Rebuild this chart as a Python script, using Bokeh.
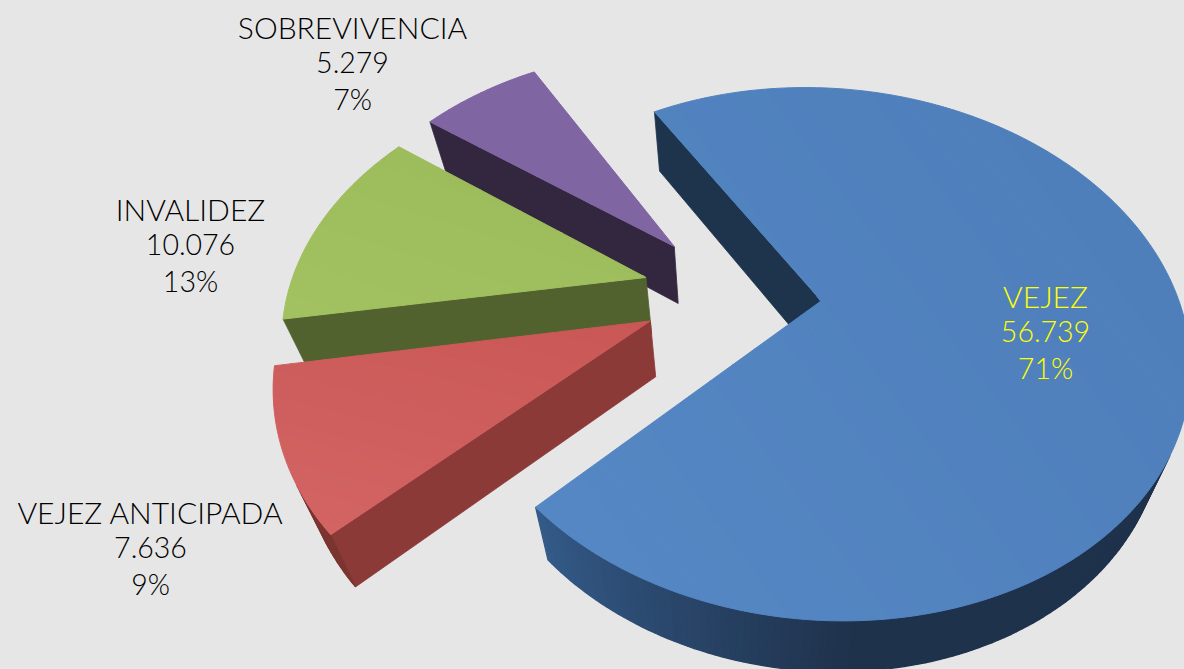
import numpy as np
from bokeh.plotting import figure
from bokeh.models import Range1d, GlobalInlineStyleSheet
from bokeh.core.properties import value
from bokeh.embed import file_html
from bokeh.resources import INLINE

# ---- data ----
categories = ["VEJEZ", "VEJEZ ANTICIPADA", "INVALIDEZ", "SOBREVIVENCIA"]
values = [56739, 7636, 10076, 5279]
value_labels = ["56.739", "7.636", "10.076", "5.279"]
percent_labels = ["71%", "9%", "13%", "7%"]

# ---- style / layout ----
top_dark = ["#4e7fbb", "#c95755", "#9dbc5c", "#8065a3"]
top_light = ["#5587c4", "#d26463", "#a2c161", "#8065a3"]
# gradient axis for the top faces (towards the lighter colour)
grad_axis = [(-0.8, 0.6), (-0.25, 0.97), (-0.3, 0.95), (-0.3, 0.95)]
radial_colors = ["#1e334c", "#8b3a37", "#52622f", "#33273f"]
arc_colors = ["#1f334d", "#7c3431", "#52622f", "#33273f"]
text_colors = ["#ffff00", "#000000", "#000000", "#000000"]
label_x = [1045, 150, 190, 352]
label_y = [295, 511, 208, 26]
LINE_STEP = 36.0
FONT = "Lato Light, Lato"
NAME_PX, NUM_PX = "30px", "28.5px"
BG = "#e6e6e6"

CX, CY, A, B = 823.81, 353.73, 366.92, 265.90
TILT = 0.0800
APEX = (820.74, 300.37)
START_DEG = -36.38
EXPLODE = 0.2510
VX, KX = 738.0, 0.061
VY, KY = 3700.0, 0.0165


def ellipse_inv(x, y):
    dx, dy = x - CX, y - CY
    c, s = np.cos(TILT), np.sin(TILT)
    return (dx * c + dy * s) / A, (-dx * s + dy * c) / B


P = np.array(ellipse_inv(*APEX))
S = np.hypot(*P)
PH = P / S


def project(uv):
    """Disc-plane points (n,2) to picture coordinates."""
    uv = np.atleast_2d(uv)
    dot = uv @ PH
    par = np.outer(dot, PH)
    perp = uv - par
    den = 1 + uv @ P
    w = (par + P + perp * np.sqrt(1 - S * S)) / den[:, None]
    c, s = np.cos(TILT), np.sin(TILT)
    x = CX + A * w[:, 0] * c - B * w[:, 1] * s
    y = CY + A * w[:, 0] * s + B * w[:, 1] * c
    return np.column_stack([x, y])


def drop(pts):
    return np.column_stack([pts[:, 0] + KX * (VX - pts[:, 0]), pts[:, 1] + KY * (VY - pts[:, 1])])


def direction(deg):
    t = np.radians(deg)
    return np.column_stack([np.sin(t), -np.cos(t)])


def mix(c1, c2, f):
    a = [int(c1[i:i + 2], 16) for i in (1, 3, 5)]
    b = [int(c2[i:i + 2], 16) for i in (1, 3, 5)]
    return "#%02x%02x%02x" % tuple(round(p + (q - p) * f) for p, q in zip(a, b))


def clip_half(poly, n, lim, keep_above):
    out = []
    m = len(poly)
    for k in range(m):
        a, b = poly[k], poly[(k + 1) % m]
        da, db = a @ n - lim, b @ n - lim
        if not keep_above:
            da, db = -da, -db
        if da >= 0:
            out.append(a)
        if (da >= 0) != (db >= 0):
            out.append(a + (b - a) * da / (da - db))
    return np.array(out) if out else np.empty((0, 2))


def faces_viewer(a, b):
    """An edge a->b of a clockwise face: is the wall below it visible?"""
    e = b - a
    m = (a + b)[None, :] / 2
    shift = drop(m)[0] - m[0]
    return e[1] * shift[0] - e[0] * shift[1] > 0


total = sum(values)
spans = [v / total * 360 for v in values]
starts = [START_DEG + sum(spans[:i]) for i in range(len(values))]
mids = [s + w / 2 for s, w in zip(starts, spans)]
base_dir = direction(mids[0])[0]

p = figure(width=1184, height=669, x_range=Range1d(0, 1184), y_range=Range1d(669, 0),
           x_axis_type=None, y_axis_type=None, toolbar_location=None, output_backend="svg",
           background_fill_color=BG, border_fill_color=BG, outline_line_color=None, min_border=0)
p.grid.visible = False
p.stylesheets = [GlobalInlineStyleSheet(css="html,body{background:%s;overflow:hidden;}" % BG)]


def add(pts, color, lw=0.8):
    p.patch(pts[:, 0], pts[:, 1], fill_color=color, line_color=color, line_width=lw)


for i in [3, 2, 1, 0]:
    off = EXPLODE * (direction(mids[i])[0] - base_dir)
    angles = np.linspace(starts[i], starts[i] + spans[i], max(8, int(spans[i])))
    rim = project(direction(angles) + off)
    apex = project(off)
    rim_low, apex_low = drop(rim), drop(apex)
    if faces_viewer(apex[0], rim[0]):
        add(np.vstack([apex, rim[:1], rim_low[:1], apex_low]), radial_colors[i])
    if faces_viewer(rim[-1], apex[0]):
        add(np.vstack([apex, rim[-1:], rim_low[-1:], apex_low]), radial_colors[i])
    for j in range(len(angles) - 1):
        if not faces_viewer(rim[j], rim[j + 1]):
            continue
        col = arc_colors[i]
        if i == 0:
            f = np.clip((angles[j] - 172) / (starts[0] + spans[0] - 172), 0, 1)
            col = mix("#1f324c", "#345b89", f)
        add(np.vstack([rim[j:j + 2], rim_low[j:j + 2][::-1]]), col, 1.2)
    # top face in bands along its gradient axis
    face = np.vstack([apex, rim])
    g = np.array(grad_axis[i])
    lo, hi = (face @ g).min(), (face @ g).max()
    edges = np.linspace(lo, hi, 25)
    for j in range(len(edges) - 1):
        band = clip_half(clip_half(face, g, edges[j], True), g, edges[j + 1], False)
        if len(band) >= 3:
            add(band, mix(top_dark[i], top_light[i], j / (len(edges) - 2)), 1.0)

for i, name in enumerate(categories):
    lines = [name, value_labels[i], percent_labels[i]]
    for k, t in enumerate(lines):
        p.text([label_x[i]], [label_y[i] + k * LINE_STEP], text=[t], text_color=text_colors[i],
               text_font=value(FONT), text_font_size=value(NAME_PX if k == 0 else NUM_PX),
               text_align="center", text_baseline="middle")

open("out.html", "w").write(file_html(p, INLINE))
